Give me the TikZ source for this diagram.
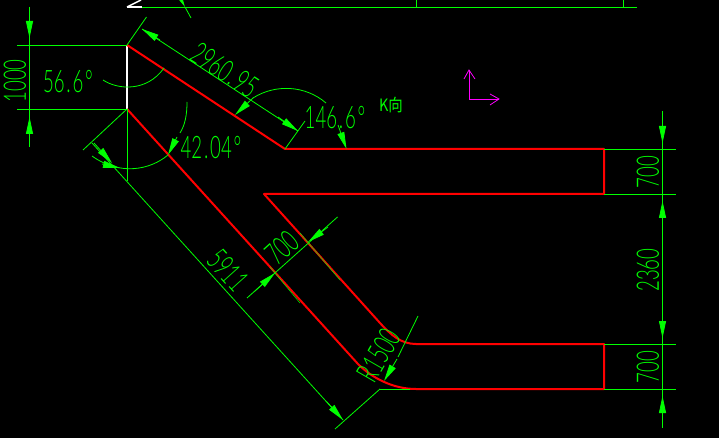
\documentclass[tikz,border=0pt]{standalone}
\usepackage{fontspec}
\setsansfont{Lato Light}
\newfontfamily\cjkfont{Noto Sans CJK SC}
\usetikzlibrary{arrows.meta}
\definecolor{dimgreen}{RGB}{0,255,0}
\definecolor{cadred}{RGB}{255,0,0}
\definecolor{cadpink}{RGB}{255,0,255}
\newcommand{\dimdot}{\kern3pt.\kern3pt}
\tikzset{
    dimline/.style={dimgreen, line width=0.8pt},
    dimhead/.style={dimgreen, line width=0.8pt, -{Triangle[length=17pt,width=7pt]}},
    outline/.style={cadred, line width=2pt, line join=round},
    dimtext/.style={text=dimgreen, font=\sffamily\fontsize{31}{31}\selectfont, inner sep=0pt, transform shape, xscale=0.6},
}
\begin{document}
\begin{tikzpicture}[x=1pt, y=-1pt]
    \fill[black] (0,0) rectangle (719,438);
    \useasboundingbox (0,0) rectangle (719,438);

    % part outline
    \draw[white, line width=2pt] (127,45) -- (127,109);
    \draw[white, line width=1.4pt] (127,7) -- (141,0);
    \draw[white, line width=1.2pt] (127,7) -- (142,7);
    \draw[outline] (127,45) -- (285,149) -- (604,149) -- (604,194) -- (264,194) -- (380,323)
        .. controls (391,335) and (401,344) .. (416,344) -- (604,344) -- (604,389) -- (416,389)
        .. controls (393,389) and (372,378) .. (358,364) -- (127,109);

    % dimension lines
    \draw[dimline] (142,7) -- (637,7);
    \draw[dimline] (416,0) -- (416,7);
    \draw[dimline] (623,0) -- (623,7);
    \draw[dimline] (185,7) -- (191,18);
    \draw[dimline] (29.5,7) -- (29.5,147);
    \draw[dimline] (17,45) -- (127,45);
    \draw[dimline] (17,109) -- (127,109);
    \draw[dimline] (127,45) -- (146.5,17);
    \draw[dimline] (285,149) -- (305,121);
    \draw[dimline] (142,29) -- (298,131);
    \draw[dimline] (127,109) -- (83,150);
    \draw[dimline] (127,109) -- (127,181);
    \draw[dimline] (92,143) -- (343,420);
    \draw[dimline] (380,389) -- (335,429);
    \draw[dimline] (380,389) -- (410,389);
    \draw[dimline] (247,298) -- (337.5,217);
    \draw[dimline] (418,316) -- (398,357);
    \draw[dimline, line width=0.5pt] (300,233) -- (340,280);
    \draw[dimline, line width=0.5pt] (270,267) -- (300,303);
    \draw[dimline] (604,149) -- (676,149);
    \draw[dimline] (604,194) -- (676,194);
    \draw[dimline] (604,344) -- (676,344);
    \draw[dimline] (604,389) -- (676,389);
    \draw[dimline] (662.5,111) -- (662.5,428);

    % angle arcs
    \draw[dimline] (103,80) .. controls (118,90) and (147,92) .. (164,68);
    \draw[dimline] (92,156) .. controls (120,176) and (150,170) .. (168,155);
    \draw[dimline] (187,102) .. controls (187,115) and (185,125) .. (180,133);
    \draw[dimline] (253,98) .. controls (275,84) and (305,85) .. (326,103);

    % arrow heads
    \draw[dimhead] (29.5,20) -- (29.5,38);
    \draw[dimhead] (29.5,135) -- (29.5,117);
    \draw[dimhead] (160,40) -- (142,29);
    \draw[dimhead] (278,117) -- (298,131);
    \draw[dimhead] (253,98) -- (235,115);
    \draw[dimhead] (338,125) -- (346.5,149);
    \draw[dimhead] (94,143) -- (112,163);
    \draw[dimhead] (102,164) -- (120,168);
    \draw[dimhead] (177,137) -- (168,155);
    \draw[dimhead] (176,-10) -- (185,7);
    \draw[dimhead] (327,402) -- (343,420);
    \draw[dimhead] (255,291) -- (275,273);
    \draw[dimhead] (328,227) -- (308,242);
    \draw[dimhead] (397,359) -- (384,381);
    \draw[dimhead] (662.5,124) -- (662.5,143);
    \draw[dimhead] (662.5,219) -- (662.5,201);
    \draw[dimhead] (662.5,319) -- (662.5,338);
    \draw[dimhead] (662.5,414) -- (662.5,396);

    % magenta axis icon
    \draw[cadpink, line width=0.8pt] (469,70) -- (469,99) -- (499,99);
    \draw[cadpink, line width=0.8pt] (464,79) -- (469,70) -- (475,79);
    \draw[cadpink, line width=0.8pt] (490,94) -- (499,99) -- (490,105);

    % labels
    \node[rotate=90, dimtext] (lenleft) at (15,81) {1000};
    \node[dimtext] (angleleft) at (68,82) {56\dimdot 6\kern3pt°};
    \node[rotate=-33, dimtext] (lentop) at (225,70) {2960\dimdot 95};
    \node[dimtext] (anglemid) at (211,148) {42\dimdot 04\kern3pt°};
    \node[dimtext] (angletop) at (335,118) {146\dimdot 6\kern3pt°};
    \node[text=dimgreen, font=\cjkfont\fontsize{17}{17}\selectfont, inner sep=0pt, transform shape, xscale=0.85] (viewk) at (391,105) {K向};
    \node[rotate=-48, dimtext] (lenlong) at (228,270) {5911};
    \node[rotate=42, dimtext] (widthdiag) at (282,248) {700};
    \node[rotate=60, dimtext] (radius) at (379,355) {R1500};
    \node[rotate=90, dimtext] (widthtop) at (648,172) {700};
    \node[rotate=90, dimtext] (gap) at (648,270) {2360};
    \node[rotate=90, dimtext] (widthlow) at (648,367) {700};
\end{tikzpicture}
\end{document}
